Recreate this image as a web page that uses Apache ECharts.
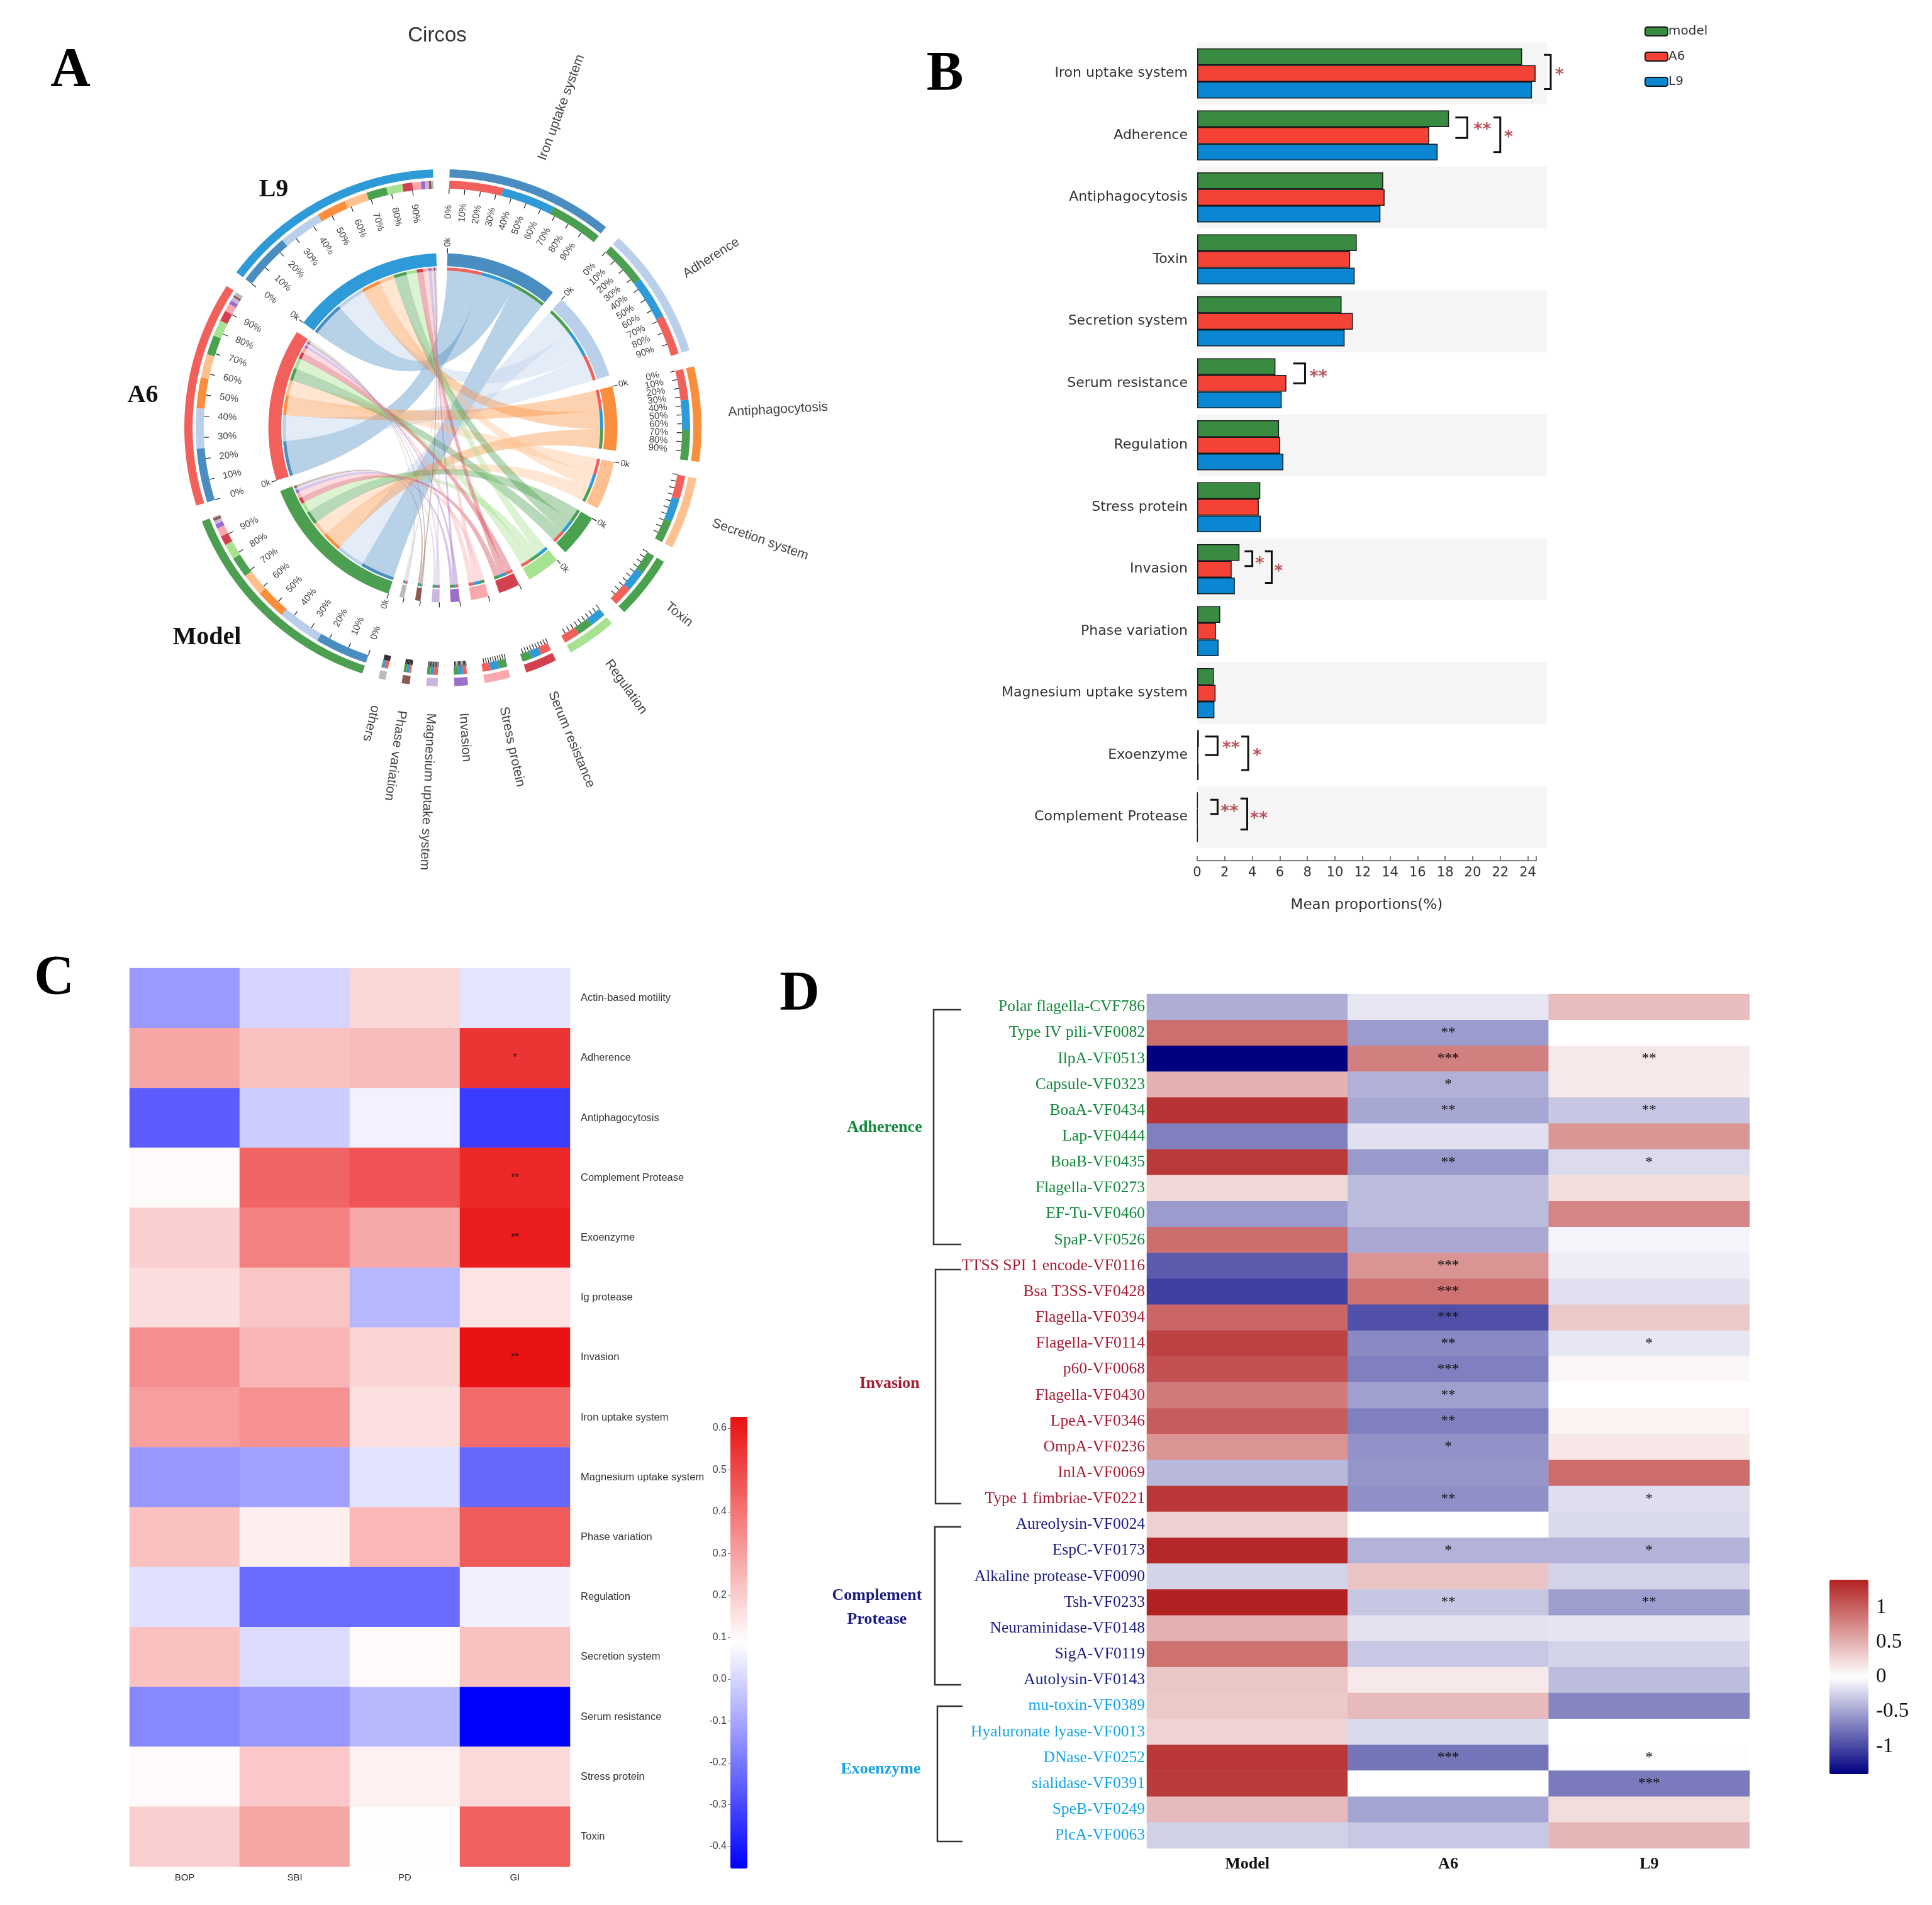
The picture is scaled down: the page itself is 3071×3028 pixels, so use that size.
<!DOCTYPE html>
<html><head><meta charset="utf-8">
<style>html,body{margin:0;padding:0;background:#fff}#c{width:3071px;height:3028px}</style>
<script src="https://cdn.jsdelivr.net/npm/echarts@6/dist/echarts.min.js"></script>
</head><body><div id="c"></div>
<script>
// ---------- Panel A data ----------
const circosFeatures = ['Iron uptake system','Adherence','Antiphagocytosis','Secretion system','Toxin','Regulation','Serum resistance','Stress protein','Invasion','Magnesium uptake system','Phase variation','others'];
const circosColors = ['#4a8dc0','#b9cfea','#f98f3c','#fdc08e','#4aa14f','#a6e28f','#d4414e','#f9a8ae','#9a6fc9','#c9b5de','#8c5a50','#bbbbbb'];
const circosGroups = ['Model','A6','L9'];
const circosGroupColors = ['#4c9f50','#f2605c','#2e9bd8'];
const circosModel = [24.5,20,14,10.4,9.6,7.2,4.4,3.9,2.2,1.6,1.3,0.5];
const circosA6    = [25,18.5,14.2,11,9,7.4,5,3.7,1.8,1.8,1,1.6];
const circosL9    = [24.5,20,13.8,10.6,9.4,7.4,4.6,3.9,2,1.6,1.2,1];
const circosOrder = [[1,2,0],[0,2,1],[1,2,0],[1,2,0],[0,2,1],[2,0,1],[1,2,0],[0,2,1],[1,2,0],[1,2,0],[1,2,0],[1,2,0]];
const percentLabelled = [true,true,true,false,false,false,false,false,false,false,false,false];
const zeroLabelled = [true,true,true,true,true,true,false,false,false,false,false,false];
const percentTicks = [0,10,20,30,40,50,60,70,80,90];
// ---------- Panel B data ----------
const barCategories = ['Iron uptake system','Adherence','Antiphagocytosis','Toxin','Secretion system','Serum resistance','Regulation','Stress protein','Invasion','Phase variation','Magnesium uptake system','Exoenzyme','Complement Protease'];
const barModel = [23.58,18.28,13.5,11.58,10.48,5.68,5.94,4.58,3.07,1.67,1.21,0.12,0.03];
const barA6    = [24.56,16.84,13.6,11.1,11.3,6.47,6.02,4.47,2.5,1.36,1.33,0.08,0.02];
const barL9    = [24.3,17.45,13.3,11.43,10.7,6.13,6.25,4.62,2.73,1.55,1.25,0.1,0.03];
const barTicks = [0,2,4,6,8,10,12,14,16,18,20,22,24];
// row, top offset, bottom offset, x of spine, x of serif, x of stars, y offset of stars, stars
const barBrackets = [
 [0,-0.3,0.25,25.66,25.17,26.3,-0.03,'*'],
 [1,-0.29,0.04,19.6,18.74,20.7,-0.14,'**'],
 [1,-0.29,0.27,22,21.5,22.6,-0.02,'*'],
 [5,-0.32,0,7.83,6.96,8.8,-0.16,'**'],
 [8,-0.29,-0.05,4,3.44,4.54,-0.14,'*'],
 [8,-0.29,0.22,5.41,4.92,5.9,-0.02,'*'],
 [11,-0.3,0,1.48,0.57,2.46,-0.17,'**'],
 [11,-0.3,0.24,3.7,3.2,4.35,-0.04,'*'],
 [12,-0.28,-0.05,1.48,0.95,2.35,-0.14,'**'],
 [12,-0.3,0.2,3.63,3.14,4.47,-0.03,'**']
];
// ---------- Panel C data ----------
const corrFeatures = ['Actin-based motility','Adherence','Antiphagocytosis','Complement Protease','Exoenzyme','Ig protease','Invasion','Iron uptake system','Magnesium uptake system','Phase variation','Regulation','Secretion system','Serum resistance','Stress protein','Toxin'];
const corrTraits = ['BOP','SBI','PD','GI'];
const corrBOP = [-0.129,0.287,-0.259,0.098,0.195,0.163,0.34,0.303,-0.134,0.228,0.022,0.228,-0.167,0.098,0.195];
const corrSBI = [-0.005,0.228,-0.02,0.438,0.373,0.217,0.254,0.335,-0.113,0.125,-0.226,0.011,-0.134,0.211,0.287];
const corrPD  = [0.178,0.238,0.06,0.476,0.281,-0.065,0.184,0.157,0.028,0.249,-0.226,0.098,-0.064,0.119,0.09];
const corrGI  = [0.03,0.546,-0.325,0.573,0.6,0.15,0.62,0.422,-0.232,0.46,0.055,0.228,-0.453,0.173,0.449];
const corrStarsGI = ['','*','','**','**','','**','','','','','','','',''];
const corrBarTicks = [-0.4,-0.3,-0.2,-0.1,0,0.1,0.2,0.3,0.4,0.5,0.6];
// ---------- Panel D data ----------
const geneNames = ['Polar flagella-CVF786','Type IV pili-VF0082','IlpA-VF0513','Capsule-VF0323','BoaA-VF0434','Lap-VF0444','BoaB-VF0435','Flagella-VF0273','EF-Tu-VF0460','SpaP-VF0526','TTSS SPI 1 encode-VF0116','Bsa T3SS-VF0428','Flagella-VF0394','Flagella-VF0114','p60-VF0068','Flagella-VF0430','LpeA-VF0346','OmpA-VF0236','InlA-VF0069','Type 1 fimbriae-VF0221','Aureolysin-VF0024','EspC-VF0173','Alkaline protease-VF0090','Tsh-VF0233','Neuraminidase-VF0148','SigA-VF0119','Autolysin-VF0143','mu-toxin-VF0389','Hyaluronate lyase-VF0013','DNase-VF0252','sialidase-VF0391','SpeB-VF0249','PlcA-VF0063'];
const geneGroupSizes = [10,10,7,6];
const geneGroupColors = ['#12883a','#a81c32','#1c1c84','#14a4e6'];
const geneSamples = ['Model','A6','L9'];
const geneModel = [-0.45,0.91,-1.4,0.5,1.29,-0.7,1.25,0.24,-0.55,0.92,-0.9,-1.05,0.97,1.2,1.1,0.84,1.03,0.68,-0.39,1.26,0.3,1.36,-0.24,1.4,0.5,0.9,0.36,0.34,0.28,1.27,1.24,0.43,-0.26];
const geneA6 = [-0.13,-0.55,0.81,-0.43,-0.49,-0.17,-0.56,-0.37,-0.37,-0.47,0.68,0.9,-0.96,-0.65,-0.7,-0.52,-0.7,-0.6,-0.58,-0.61,0,-0.42,0.37,-0.31,-0.16,-0.3,0.14,0.43,-0.21,-0.76,0,-0.5,-0.3];
const geneL9 = [0.42,0,0.14,0.13,-0.31,0.67,-0.2,0.21,0.77,-0.06,-0.1,-0.17,0.34,-0.13,0.05,0,0.08,0.15,0.93,-0.18,-0.21,-0.42,-0.24,-0.54,-0.14,-0.24,-0.37,-0.67,0,-0.01,-0.73,0.22,0.46];
const geneStarsA6 = ['','**','***','*','**','','**','','','','***','***','***','**','***','**','**','*','','**','','*','','**','','','','','','***','','',''];
const geneStarsL9 = ['','','**','','**','','*','','','','','','','*','','','','','','*','','*','','**','','','','','','*','***','',''];
const geneBarTicks = [-1,-0.5,0,0.5,1];

// ---------- fonts ----------
const SANS='"Liberation Sans",Arial,sans-serif', SERIF='"Liberation Serif",serif', DEJA='"DejaVu Sans",sans-serif';

// ---------- circos layout from the data ----------
const circosRows = circosFeatures.map((_,i)=>[circosModel[i],circosA6[i],circosL9[i]]);
const featureTotals = circosRows.map(r=>r.reduce((a,b)=>a+b,0));
const groupTotals = [0,1,2].map(g=>circosRows.reduce((a,r)=>a+r[g],0));
const gapDeg = 3.7, startDeg = 1.5;
const unitDeg = (360-15*gapDeg)/(featureTotals.reduce((a,b)=>a+b,0)+groupTotals.reduce((a,b)=>a+b,0));
let cursor = startDeg;
const featureArcs = featureTotals.map(t=>{const a=[cursor,cursor+t*unitDeg];cursor=a[1]+gapDeg;return a;});
const groupArcs = groupTotals.map(t=>{const a=[cursor,cursor+t*unitDeg];cursor=a[1]+gapDeg;return a;});
const flows = [];
circosRows.forEach((row,f)=>{let c=featureArcs[f][0];circosOrder[f].forEach(g=>{const s=row[g]*unitDeg;flows[f]=flows[f]||[];flows[f][g]={fa:[c,c+s]};c+=s;});});
groupArcs.forEach((arc,g)=>{let c=arc[0];circosRows.forEach((row,f)=>{const s=row[g]*unitDeg;flows[f][g].ga=[c,c+s];c+=s;});});

const R={o1:1,o2:.968,s1:.956,s2:.925,t:.905,lab:.835,i1:.675,i2:.625,n1:.62,n2:.608,zero:.718,name:1.105};
function circosRender(params,api){
  const pt=(r,d)=>{const t=d*Math.PI/180;return api.coord([r*Math.sin(t),r*Math.cos(t)]);};
  const children=[];
  const band=(a,b,r1,r2,color,op)=>{
    const pts=[],n=Math.max(2,Math.ceil((b-a)/0.4));
    for(let i=0;i<=n;i++)pts.push(pt(r1,a+(b-a)*i/n));
    for(let i=n;i>=0;i--)pts.push(pt(r2,a+(b-a)*i/n));
    children.push({type:'polygon',shape:{points:pts},style:{fill:color,opacity:op==null?1:op}});
  };
  const tick=(d,r1,r2)=>{const p=pt(r1,d),q=pt(r2,d);children.push({type:'line',shape:{x1:p[0],y1:p[1],x2:q[0],y2:q[1]},style:{stroke:'#222',lineWidth:1.2}});};
  const radialText=(text,d,r,size,upright,align,color)=>{
    const p=pt(r,d);let rot=90-d;if(upright&&d>180)rot=270-d;
    children.push({type:'text',x:p[0],y:p[1],rotation:rot*Math.PI/180,style:{text,fill:color||'#444',fontSize:size,fontFamily:SANS,align:align||'center',verticalAlign:'middle'}});
  };
  // ribbons
  circosRows.forEach((row,f)=>{[0,1,2].forEach(g=>{
    const fl=flows[f][g],pts=[];
    const arc=(a,b)=>{const n=Math.max(2,Math.ceil(Math.abs(b-a)/0.5));for(let i=0;i<=n;i++)pts.push(pt(R.n2,a+(b-a)*i/n));};
    const bez=(d0,d1)=>{const p0=pt(R.n2,d0),p1=pt(R.n2,d1),c=api.coord([0,0]);for(let i=1;i<40;i++){const t=i/40,u=1-t;pts.push([u*u*p0[0]+2*u*t*c[0]+t*t*p1[0],u*u*p0[1]+2*u*t*c[1]+t*t*p1[1]]);}};
    arc(fl.ga[0],fl.ga[1]);bez(fl.ga[1],fl.fa[0]);arc(fl.fa[0],fl.fa[1]);bez(fl.fa[1],fl.ga[0]);
    children.push({type:'polygon',shape:{points:pts},style:{fill:circosColors[f],opacity:.4}});
  });});
  // feature sectors
  featureArcs.forEach((a,f)=>{
    band(a[0],a[1],R.o1,R.o2,circosColors[f]);
    band(a[0],a[1],R.i1,R.i2,circosColors[f]);
    circosOrder[f].forEach(g=>{const x=flows[f][g].fa;band(x[0],x[1],R.s1,R.s2,circosGroupColors[g]);band(x[0],x[1],R.n1,R.n2,circosGroupColors[g]);});
    percentTicks.forEach(p=>{const d=a[0]+(a[1]-a[0])*p/100;tick(d,R.s2,R.t);if(percentLabelled[f])radialText(p+'%',d,R.lab,15,true);});
    tick(a[0],R.i1,R.i1+.02);
    if(zeroLabelled[f])radialText('0k',a[0],R.zero,14,true);
    const mid=(a[0]+a[1])/2;
    radialText(circosFeatures[f],mid,R.name,21,false,'left','#444');
  });
  // group sectors
  groupArcs.forEach((a,g)=>{
    band(a[0],a[1],R.o1,R.o2,circosGroupColors[g]);
    band(a[0],a[1],R.i1,R.i2,circosGroupColors[g]);
    circosRows.forEach((row,f)=>{const x=flows[f][g].ga;band(x[0],x[1],R.s1,R.s2,circosColors[f]);band(x[0],x[1],R.n1,R.n2,circosColors[f]);});
    percentTicks.forEach(p=>{const d=a[0]+(a[1]-a[0])*p/100;tick(d,R.s2,R.t);radialText(p+'%',d,R.lab,15,true);});
    tick(a[0],R.i1,R.i1+.02);
    radialText('0k',a[0],R.zero,14,true);
  });
  return {type:'group',children};
}

// ---------- panel B helpers ----------
function stripeRender(params,api){
  const h=api.size([0,1])[1],children=[];
  barCategories.forEach((_,i)=>{if(i%2)return;const p=api.coord([0,i]),q=api.coord([25.4,i]);
    children.push({type:'rect',shape:{x:p[0],y:p[1]-h/2,width:q[0]-p[0],height:h},style:{fill:'#f5f5f5'}});});
  return {type:'group',children};
}
function bracketRender(params,api){
  const h=api.size([0,1])[1],children=[];
  barBrackets.forEach(b=>{
    const y0=api.coord([0,b[0]])[1],xs=api.coord([b[3],b[0]])[0],xl=api.coord([b[4],b[0]])[0],xt=api.coord([b[5],b[0]])[0];
    const t=y0+b[1]*h,u=y0+b[2]*h;
    children.push({type:'polyline',shape:{points:[[xl,t],[xs,t],[xs,u],[xl,u]]},style:{fill:'none',stroke:'#111',lineWidth:3}});
    children.push({type:'text',x:xt,y:y0+b[6]*h+6,style:{text:b[7],fill:'#b8525a',fontSize:27,fontWeight:'bold',fontFamily:DEJA,align:'center',verticalAlign:'middle'}});
  });
  return {type:'group',children};
}

// ---------- D helpers ----------
const geneColorOf=i=>{let c=0;for(let g=0;g<geneGroupSizes.length;g++){c+=geneGroupSizes[g];if(i<c)return geneGroupColors[g];}};
const corrData=[];
[corrBOP,corrSBI,corrPD,corrGI].forEach((col,x)=>col.forEach((v,y)=>corrData.push([x,y,v,x===3?corrStarsGI[y]:''])));
const geneData=[];
[geneModel,geneA6,geneL9].forEach((col,x)=>col.forEach((v,y)=>geneData.push([x,y,v,x===1?geneStarsA6[y]:(x===2?geneStarsL9[y]:'')])));

const hiddenAxis=(i,min,max)=>({type:'value',gridIndex:i,min,max,show:false});
const seriesList=[
 {type:'custom',name:'circos',coordinateSystem:'cartesian2d',xAxisIndex:0,yAxisIndex:0,data:[[0,0]],renderItem:circosRender,clip:false,silent:true},
 {type:'custom',name:'stripes',coordinateSystem:'cartesian2d',xAxisIndex:1,yAxisIndex:1,data:[[0,0]],renderItem:stripeRender,clip:false,silent:true,z:0},
 {type:'bar',name:'model',xAxisIndex:1,yAxisIndex:1,data:barModel,barWidth:26.5,barGap:0,itemStyle:{color:'#3a8b42',borderColor:'#1a1a1a',borderWidth:1.5},z:2},
 {type:'bar',name:'A6',xAxisIndex:1,yAxisIndex:1,data:barA6,barWidth:26.5,barGap:0,itemStyle:{color:'#f44336',borderColor:'#1a1a1a',borderWidth:1.5},z:2},
 {type:'bar',name:'L9',xAxisIndex:1,yAxisIndex:1,data:barL9,barWidth:26.5,barGap:0,itemStyle:{color:'#0a86d2',borderColor:'#1a1a1a',borderWidth:1.5},z:2},
 {type:'custom',name:'brackets',coordinateSystem:'cartesian2d',xAxisIndex:1,yAxisIndex:1,data:[[0,0]],renderItem:bracketRender,clip:false,silent:true,z:3},
 {type:'heatmap',name:'corr',xAxisIndex:2,yAxisIndex:2,data:corrData,label:{show:true,formatter:p=>p.data[3],color:'#111',fontSize:16,fontFamily:SANS},itemStyle:{borderWidth:0}},
 {type:'heatmap',name:'gene',xAxisIndex:4,yAxisIndex:4,data:geneData,label:{show:true,formatter:p=>p.data[3],color:'#111',fontSize:23,fontFamily:SERIF},itemStyle:{borderWidth:0}}
];

function bracket(x1,y1,y2,x0){return {type:'polyline',shape:{points:[[x1,y1],[x0,y1],[x0,y2],[x1,y2]]},style:{fill:'none',stroke:'#333',lineWidth:2.5},silent:true};}
function txt(text,x,y,size,color,weight,family){return {type:'text',x,y,silent:true,style:{text,fill:color||'#000',fontSize:size,fontWeight:weight||'normal',fontFamily:family||SERIF,align:'center',verticalAlign:'middle'}};}

const option={
 animation:false,backgroundColor:'#fff',
 legend:{data:['model','A6','L9'],orient:'vertical',left:2614,top:40,itemWidth:36,itemHeight:14,itemGap:20,padding:0,selectedMode:false,textStyle:{fontSize:20,fontFamily:DEJA,color:'#333',padding:[0,0,0,-4]}},
 grid:[
  {left:293,top:269,width:822,height:822},
  {left:1903,top:67.5,width:538.7,height:1280.5},
  {left:206,top:1539,width:700,height:1428},
  {left:1161,top:2252,width:27,height:718},
  {left:1823,top:1580,width:958,height:1358},
  {left:2908,top:2511,width:62,height:309}
 ],
 xAxis:[
  hiddenAxis(0,-1,1),
  {type:'value',gridIndex:1,min:0,max:24.6,offset:20,splitLine:{show:false},
   axisLine:{show:true,lineStyle:{color:'#555',width:1.5}},
   axisTick:{show:true,inside:true,length:7,customValues:barTicks.concat([24.6]),lineStyle:{color:'#555',width:1.5}},
   axisLabel:{customValues:barTicks,fontSize:21,fontFamily:DEJA,color:'#333',margin:9},
   name:'Mean proportions(%)',nameLocation:'middle',nameGap:60,nameTextStyle:{fontSize:23,fontFamily:DEJA,color:'#333'}},
  {type:'category',gridIndex:2,data:corrTraits,axisLine:{show:false},axisTick:{show:false},axisLabel:{fontSize:15,fontFamily:SANS,color:'#333',margin:10},splitLine:{show:false}},
  hiddenAxis(3,0,1),
  {type:'category',gridIndex:4,data:geneSamples,axisLine:{show:false},axisTick:{show:false},axisLabel:{fontSize:26,fontWeight:'bold',fontFamily:SERIF,color:'#111',margin:12},splitLine:{show:false}},
  hiddenAxis(5,0,1)
 ],
 yAxis:[
  hiddenAxis(0,-1,1),
  {type:'category',gridIndex:1,inverse:true,data:barCategories,axisLine:{show:false},axisTick:{show:false},axisLabel:{fontSize:22,fontFamily:DEJA,color:'#333',margin:15,padding:[5,0,0,0]}},
  {type:'category',gridIndex:2,inverse:true,position:'right',data:corrFeatures,axisLine:{show:false},axisTick:{show:false},axisLabel:{fontSize:16.5,fontFamily:SANS,color:'#333',margin:17},splitLine:{show:false}},
  {type:'value',gridIndex:3,min:-0.453,max:0.627,position:'left',splitLine:{show:false},axisLine:{show:false},
   axisTick:{show:true,length:4,customValues:corrBarTicks,lineStyle:{color:'#777'}},
   axisLabel:{customValues:corrBarTicks,formatter:v=>v.toFixed(1),fontSize:16,fontFamily:SANS,color:'#444',margin:6}},
  {type:'category',gridIndex:4,inverse:true,data:geneNames,axisLine:{show:false},axisTick:{show:false},splitLine:{show:false},
   axisLabel:{fontSize:25.5,fontFamily:SERIF,margin:3,interval:0,color:(v,i)=>geneColorOf(i)}},
  {type:'value',gridIndex:5,min:-1.4,max:1.4,position:'right',splitLine:{show:false},axisLine:{show:false},
   axisTick:{show:true,length:6,customValues:geneBarTicks,lineStyle:{color:'#333'}},
   axisLabel:{customValues:geneBarTicks,fontSize:33,fontFamily:SERIF,color:'#111',margin:12}}
 ],
 visualMap:[
  {type:'continuous',seriesIndex:6,dimension:2,min:-0.453,max:0.627,calculable:false,hoverLink:false,realtime:false,left:1161,top:2252,itemWidth:27,itemHeight:718,padding:0,text:null,inRange:{color:['#0000ff','#ffffff','#ea1010']}},
  {type:'continuous',seriesIndex:7,dimension:2,min:-1.4,max:1.4,calculable:false,hoverLink:false,realtime:false,left:2908,top:2511,itemWidth:62,itemHeight:309,padding:0,text:null,inRange:{color:['#000080','#ffffff','#b22222']}}
 ],
 series:seriesList,
 graphic:{elements:[
  txt('A',112,113,88,'#000','bold'),txt('B',1502,119,88,'#000','bold'),txt('C',86,1556,88,'#000','bold'),txt('D',1271,1581,88,'#000','bold'),
  txt('Circos',695,57,33,'#333','normal',SANS),
  txt('L9',435,302,40,'#111','bold'),txt('A6',227,629,40,'#111','bold'),txt('Model',329,1014,40,'#111','bold'),
  bracket(1528,1605,1978,1484),bracket(1528,2018,2390,1487),bracket(1528,2427,2678,1486),bracket(1530,2712,2927,1490),
  txt('Adherence',1406,1792,26,geneGroupColors[0],'bold'),
  txt('Invasion',1414,2199,26,geneGroupColors[1],'bold'),
  txt('Complement',1394,2536,26,geneGroupColors[2],'bold'),txt('Protease',1394,2574,26,geneGroupColors[2],'bold'),
  txt('Exoenzyme',1400,2812,26,geneGroupColors[3],'bold')
 ]}
};
const chart=echarts.init(document.getElementById('c'),null,{renderer:'canvas',width:3071,height:3028});
chart.setOption(option);
</script></body></html>
